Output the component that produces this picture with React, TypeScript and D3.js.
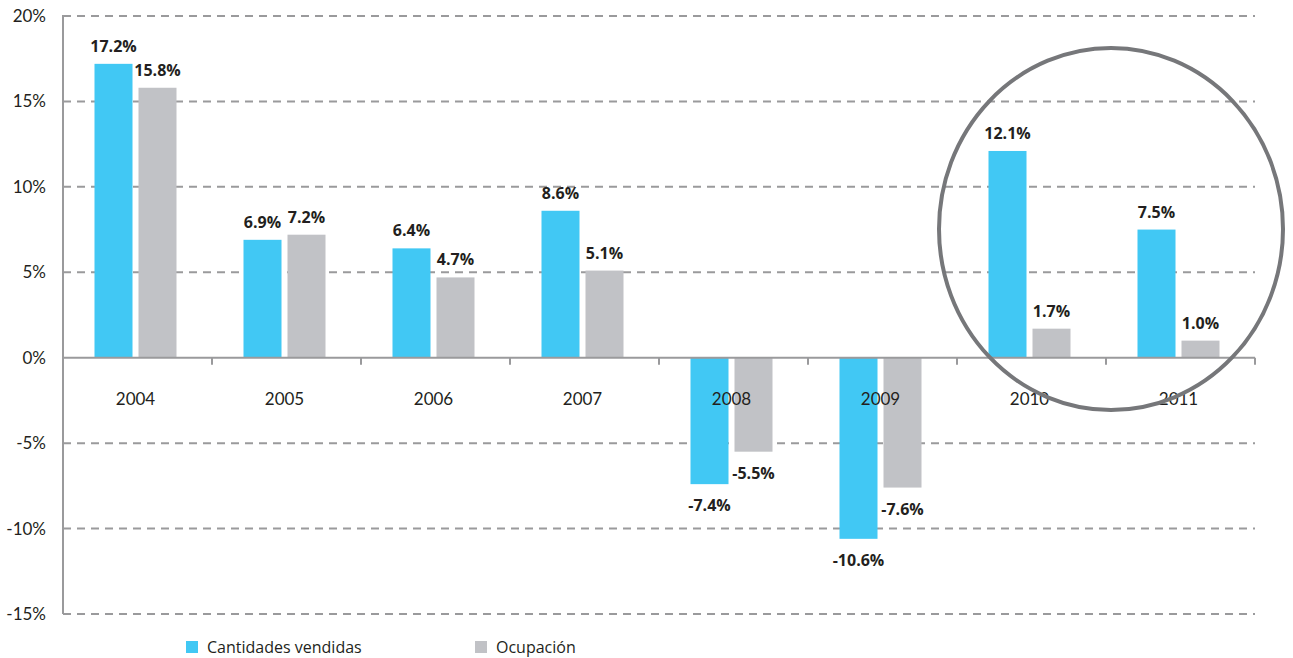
import React from "react";
import * as d3 from "d3";

const years = ["2004", "2005", "2006", "2007", "2008", "2009", "2010", "2011"];
const cantidades = [17.2, 6.9, 6.4, 8.6, -7.4, -10.6, 12.1, 7.5];
const ocupacion = [15.8, 7.2, 4.7, 5.1, -5.5, -7.6, 1.7, 1.0];
const yTicks = [20, 15, 10, 5, 0, -5, -10, -15];
const seriesNames = ["Cantidades vendidas", "Ocupación"];
const colors = ["#41C8F4", "#C1C2C6"];

const W = 1293;
const H = 658;
const left = 63;
const right = 1255;

export default function App() {
  const y = d3.scaleLinear().domain([-15, 20]).range([614, 16]);
  const x = d3.scaleBand().domain(years).range([left, right]).padding(0);
  const bw = 38;
  const gap = 6;
  const font = "Lato, 'Open Sans', sans-serif";
  const font2 = "'Open Sans', Lato, sans-serif";
  const fmt = (v: number) => v.toFixed(1) + "%";
  const series = [cantidades, ocupacion];

  return (
    <svg width={W} height={H} style={{ position: "absolute", left: 0, top: 0, background: "#fff" }} fontFamily={font}>
      {yTicks.map((t) => (
        <g key={t}>
          {t !== 0 && (
            <line x1={left} x2={right} y1={y(t)} y2={y(t)} stroke="#9A9A9C" strokeWidth={2} strokeDasharray="8,6" />
          )}
          <text x={46} y={y(t) + 6} textAnchor="end" fontSize={17} fill="#231F20">
            {t + "%"}
          </text>
        </g>
      ))}
      <line x1={left} x2={left} y1={y(20) - 1} y2={y(-15)} stroke="#9A9A9C" strokeWidth={2} />
      {years.map((yr, i) => {
        const x0 = x(yr)!;
        const cx = x0 + x.bandwidth() / 2 - 2;
        return (
          <g key={yr}>
            {series.map((s, k) => {
              const v = s[i];
              const bx = k === 0 ? cx - gap / 2 - bw : cx + gap / 2;
              const top = v >= 0 ? y(v) : y(0);
              const h = Math.abs(y(v) - y(0));
              return (
                <g key={k}>
                  <rect x={bx} y={top} width={bw} height={h} fill={colors[k]} />
                  <text
                    x={bx + bw / 2}
                    y={v >= 0 ? y(v) - 12 : y(v) + 27}
                    textAnchor="middle"
                    fontSize={16}
                    fontWeight="bold"
                    fontFamily={font2}
                    fill="#231F20"
                  >
                    {fmt(v)}
                  </text>
                </g>
              );
            })}
          </g>
        );
      })}
      <line x1={left} x2={right} y1={y(0)} y2={y(0)} stroke="#9A9A9C" strokeWidth={2} />
      {[...years.map((yr) => x(yr)!), right].map((tx, i) => (
        <line key={i} x1={tx} x2={tx} y1={y(0)} y2={y(0) + 7} stroke="#9A9A9C" strokeWidth={2} />
      ))}
      {years.map((yr) => (
        <text key={yr} x={x(yr)! + x.bandwidth() / 2 - 2} y={y(0) + 47} textAnchor="middle" fontSize={17} fill="#231F20">
          {yr}
        </text>
      ))}
      <ellipse cx={1111} cy={229} rx={172} ry={181} fill="none" stroke="#76777A" strokeWidth={4} />
      {seriesNames.map((n, k) => {
        const lx = k === 0 ? 186 : 475;
        return (
          <g key={n}>
            <rect x={lx} y={641} width={12} height={12} fill={colors[k]} />
            <text x={lx + 21} y={653} fontSize={16} fontFamily={font2} fill="#231F20">
              {n}
            </text>
          </g>
        );
      })}
    </svg>
  );
}
